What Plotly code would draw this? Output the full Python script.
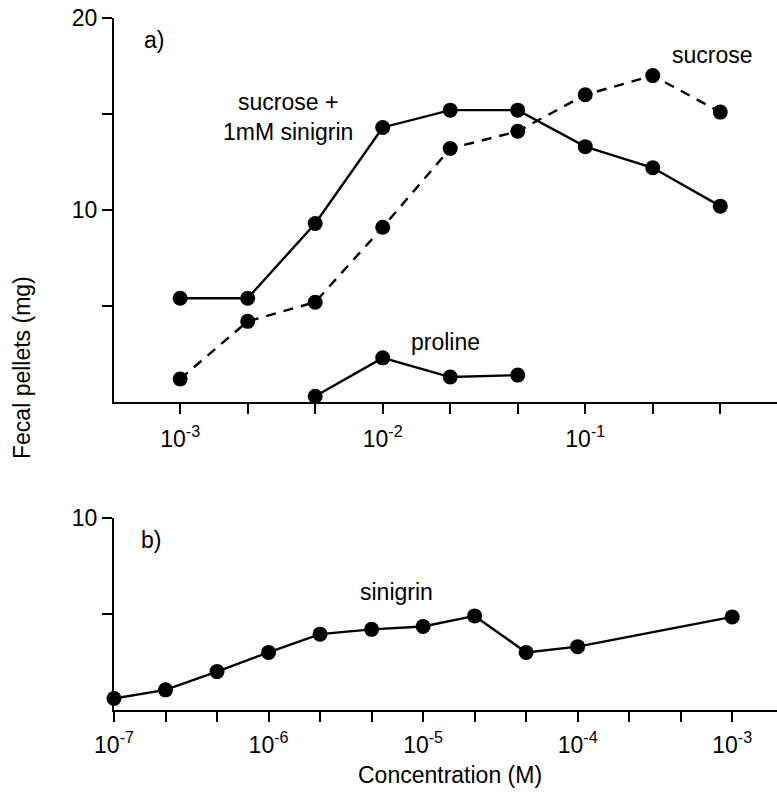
import plotly.graph_objects as go

# ---------------- data ----------------
# panel a) concentration categories (M), equally spaced on the drawing
conc_a = ["0.001", "0.002", "0.005", "0.01", "0.02", "0.05", "0.1", "0.2", "0.5"]
sucrose_sin_x = ["0.001", "0.002", "0.005", "0.01", "0.02", "0.05", "0.1", "0.2", "0.5"]
sucrose_sin_y = [5.4, 5.4, 9.3, 14.3, 15.2, 15.2, 13.3, 12.2, 10.2]
sucrose_x = ["0.001", "0.002", "0.005", "0.01", "0.02", "0.05", "0.1", "0.2", "0.5"]
sucrose_y = [1.2, 4.2, 5.2, 9.1, 13.2, 14.1, 16.0, 17.0, 15.1]
proline_x = ["0.005", "0.01", "0.02", "0.05"]
proline_y = [0.3, 2.3, 1.3, 1.4]
ticklabels_a = {"0.001": "10<sup>-3</sup>", "0.01": "10<sup>-2</sup>", "0.1": "10<sup>-1</sup>"}

# panel b) sinigrin
conc_b = ["1e-7", "2e-7", "5e-7", "1e-6", "2e-6", "5e-6", "1e-5", "2e-5", "5e-5",
          "1e-4", "2e-4", "5e-4", "1e-3"]
sinigrin_x = ["1e-7", "2e-7", "5e-7", "1e-6", "2e-6", "5e-6", "1e-5", "2e-5", "5e-5", "1e-4", "1e-3"]
sinigrin_y = [0.6, 1.05, 2.0, 3.0, 3.95, 4.2, 4.35, 4.9, 3.0, 3.3, 4.85]
ticklabels_b = {"1e-7": "10<sup>-7</sup>", "1e-6": "10<sup>-6</sup>", "1e-5": "10<sup>-5</sup>",
                "1e-4": "10<sup>-4</sup>", "1e-3": "10<sup>-3</sup>"}

FONT = "Liberation Sans, Arial, Helvetica, sans-serif"
FS = 23
TFS = 23
W, H = 777, 796
L, R, T, B = 114, 0, 18, 86
PW, PH = W - L - R, H - T - B


def px(xp, yp):
    return (xp - L) / PW, (H - B - yp) / PH


fig = go.Figure()
line = dict(color="black", width=2.4)
mk = dict(color="black", size=15)

fig.add_trace(go.Scatter(x=sucrose_sin_x, y=sucrose_sin_y, mode="lines+markers",
                         line=line, marker=mk, cliponaxis=False, xaxis="x", yaxis="y"))
fig.add_trace(go.Scatter(x=sucrose_x, y=sucrose_y, mode="lines+markers",
                         line=dict(color="black", width=2.4, dash="10px,8px"),
                         marker=mk, cliponaxis=False, xaxis="x", yaxis="y"))
fig.add_trace(go.Scatter(x=proline_x, y=proline_y, mode="lines+markers",
                         line=line, marker=mk, cliponaxis=False, xaxis="x", yaxis="y"))
fig.add_trace(go.Scatter(x=sinigrin_x, y=sinigrin_y, mode="lines+markers",
                         line=line, marker=mk, cliponaxis=False, xaxis="x2", yaxis="y2"))

axis_common = dict(showline=True, linecolor="black", linewidth=2, ticks="outside",
                   ticklen=10, tickwidth=1.5, tickcolor="black", showgrid=False,
                   zeroline=False, tickfont=dict(family=FONT, size=TFS, color="black"))

top_lo = (H - B - 402) / PH
bot_hi = (H - B - 518) / PH

fig.update_layout(
    width=W, height=H, margin=dict(l=L, r=R, t=T, b=B),
    paper_bgcolor="white", plot_bgcolor="white", showlegend=False,
    font=dict(family=FONT, size=FS, color="black"),
    xaxis=dict(axis_common, type="category", categoryorder="array", categoryarray=conc_a,
               range=[-0.98, 8.84], domain=[0, 1], anchor="y", ticklabelstandoff=5,
               tickvals=conc_a, ticktext=[ticklabels_a.get(c, "") for c in conc_a]),
    yaxis=dict(axis_common, range=[0, 20], domain=[top_lo, 1], anchor="x",
               tickvals=[5, 10, 15, 20], ticktext=["", "10", "", "20"]),
    xaxis2=dict(axis_common, type="category", categoryorder="array", categoryarray=conc_b,
                range=[0, 12.87], domain=[0, 1], anchor="y2", ticklabelstandoff=3,
                tickvals=conc_b, ticktext=[ticklabels_b.get(c, "") for c in conc_b]),
    yaxis2=dict(axis_common, range=[0, 10], domain=[0, bot_hi], anchor="x2",
                tickvals=[5, 10], ticktext=["", "10"]),
)

labels = [
    ("a)", 154, 40, 0),
    ("sucrose +<br>1mM sinigrin", 288, 117, 0),
    ("sucrose", 712, 55, 0),
    ("proline", 445, 342, 0),
    ("b)", 151, 540, 0),
    ("sinigrin", 396, 592, 0),
    ("Concentration (M)", 450, 775, 0),
    ("Fecal pellets (mg)", 22, 368, -90),
]
for text, xp, yp, ang in labels:
    xx, yy = px(xp, yp)
    fig.add_annotation(text=text, x=xx, y=yy, xref="paper", yref="paper",
                       showarrow=False, textangle=ang, xanchor="center", yanchor="middle",
                       align="center", font=dict(family=FONT, size=FS, color="black"))

fig.write_html("out.html")
